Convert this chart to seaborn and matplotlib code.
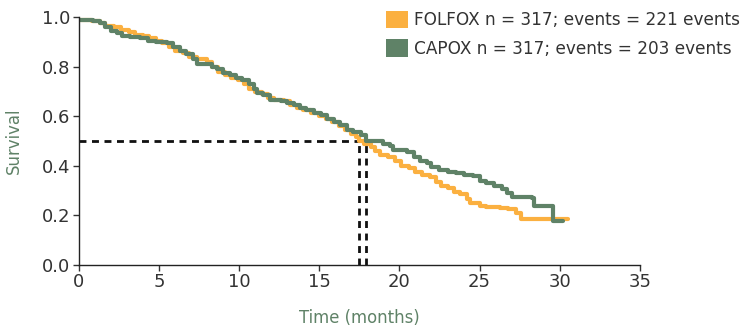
import numpy as np
import pandas as pd
import matplotlib.pyplot as plt
from matplotlib.patches import Patch
import seaborn as sns

sns.set_style('ticks')
plt.rcParams['font.family'] = ['DejaVu Sans']

# --- step curves (time in months, survival)
folfox_t = [0, 0.8, 1.3, 1.6, 2.2, 2.6, 3.1, 3.5, 4.0, 4.4, 4.8, 5.2, 5.6, 6.0, 6.5, 6.9,
            7.4, 8.0, 8.3, 8.7, 9.1, 9.5, 9.9, 10.3, 10.6, 11.0, 11.4, 11.8, 12.2, 12.8,
            13.2, 13.6, 14.0, 14.5, 15.0, 15.4, 15.8, 16.2, 16.6, 17.0, 17.3, 17.5, 17.8,
            18.2, 18.5, 18.8, 19.3, 19.7, 20.1, 20.6, 21.0, 21.4, 21.9, 22.3, 22.6, 23.0,
            23.4, 23.8, 24.2, 24.4, 25.0, 25.4, 26.3, 26.8, 27.3, 27.6, 30.5]
folfox_s = [0.99, 0.985, 0.975, 0.965, 0.96, 0.95, 0.94, 0.93, 0.925, 0.915, 0.905, 0.895,
            0.88, 0.865, 0.855, 0.84, 0.83, 0.82, 0.80, 0.78, 0.765, 0.755, 0.745, 0.73,
            0.71, 0.70, 0.69, 0.675, 0.665, 0.66, 0.645, 0.635, 0.625, 0.615, 0.60, 0.59,
            0.575, 0.56, 0.545, 0.53, 0.515, 0.50, 0.49, 0.475, 0.46, 0.445, 0.435, 0.42,
            0.40, 0.39, 0.375, 0.365, 0.355, 0.335, 0.32, 0.31, 0.295, 0.285, 0.265, 0.25,
            0.24, 0.235, 0.23, 0.225, 0.21, 0.185, 0.185]

capox_t = [0, 0.9, 1.3, 1.6, 2.0, 2.4, 2.7, 3.2, 3.8, 4.3, 4.8, 5.5, 5.9, 6.3, 6.7, 7.1,
           7.4, 8.3, 8.6, 9.0, 9.4, 9.8, 10.2, 10.6, 10.9, 11.1, 11.5, 11.9, 12.6, 13.0,
           13.4, 13.8, 14.2, 14.7, 15.1, 15.5, 15.9, 16.3, 16.7, 17.1, 17.6, 17.9, 19.0,
           19.4, 19.6, 20.5, 20.9, 21.3, 21.7, 22.0, 22.5, 23.0, 23.5, 24.0, 24.6, 25.0,
           25.4, 25.9, 26.4, 26.7, 27.0, 28.3, 28.4, 29.6, 30.2]
capox_s = [0.99, 0.985, 0.975, 0.96, 0.945, 0.935, 0.925, 0.92, 0.915, 0.905, 0.90, 0.895,
           0.88, 0.865, 0.85, 0.83, 0.81, 0.80, 0.79, 0.775, 0.765, 0.755, 0.745, 0.73,
           0.71, 0.695, 0.685, 0.665, 0.66, 0.655, 0.645, 0.635, 0.625, 0.615, 0.605,
           0.59, 0.575, 0.565, 0.545, 0.535, 0.525, 0.50, 0.49, 0.48, 0.465, 0.455, 0.435,
           0.42, 0.41, 0.395, 0.385, 0.375, 0.37, 0.365, 0.36, 0.34, 0.33, 0.32, 0.305,
           0.29, 0.275, 0.27, 0.24, 0.178, 0.178]

median_folfox = 17.5
median_capox = 17.9

labels = ['FOLFOX n = 317; events = 221 events', 'CAPOX n = 317; events = 203 events']
c_orange = '#FBB040'
c_green = '#5F8267'


def main():
    fig = plt.figure(figsize=(7.51, 3.30), dpi=100)
    ax = fig.add_axes([0.105, 0.197, 0.747, 0.751])

    # --- median lines
    dash = dict(color='#111111', lw=2, linestyle=(0, (2.5, 2)))
    ax.plot([0, median_capox], [0.5, 0.5], **dash)
    ax.plot([median_folfox, median_folfox], [0, 0.5], **dash)
    ax.plot([median_capox, median_capox], [0, 0.5], **dash)

    df_f = pd.DataFrame({'t': folfox_t, 's': folfox_s})
    df_c = pd.DataFrame({'t': capox_t, 's': capox_s})
    sns.lineplot(data=df_f, x='t', y='s', estimator=None, sort=False, color=c_orange,
                 lw=3, drawstyle='steps-post', ax=ax)
    sns.lineplot(data=df_c, x='t', y='s', estimator=None, sort=False, color=c_green,
                 lw=3, drawstyle='steps-post', ax=ax)

    ax.set_xlim(0, 35)
    ax.set_ylim(0, 1.0)
    ax.set_xticks(np.arange(0, 36, 5))
    ax.set_yticks(np.arange(0, 1.01, 0.2))
    ax.set_yticklabels(['%.1f' % v for v in np.arange(0, 1.01, 0.2)])
    ax.tick_params(labelsize=13, colors='#333333', length=4, width=1, pad=2)
    for s in ['top', 'right']:
        ax.spines[s].set_visible(False)
    for s in ['left', 'bottom']:
        ax.spines[s].set_color('#222222')
        ax.spines[s].set_linewidth(1)
    ax.set_xlabel('Time (months)', fontsize=11.9, color=c_green, labelpad=13)
    ax.set_ylabel('Survival', fontsize=11.9, color=c_green, labelpad=14)

    handles = [Patch(facecolor=c_orange, edgecolor='none'),
               Patch(facecolor=c_green, edgecolor='none')]
    fig.legend(handles, labels, loc='upper left', bbox_to_anchor=(0.496, 1.008),
               frameon=False, fontsize=12.2, handlelength=1.3, handleheight=1.2,
               handletextpad=0.35, labelspacing=0.6, borderpad=0.3, labelcolor='#333333')

    plt.savefig('out.png', dpi=100)
    plt.close(fig)


if __name__ == "__main__":
    main()
